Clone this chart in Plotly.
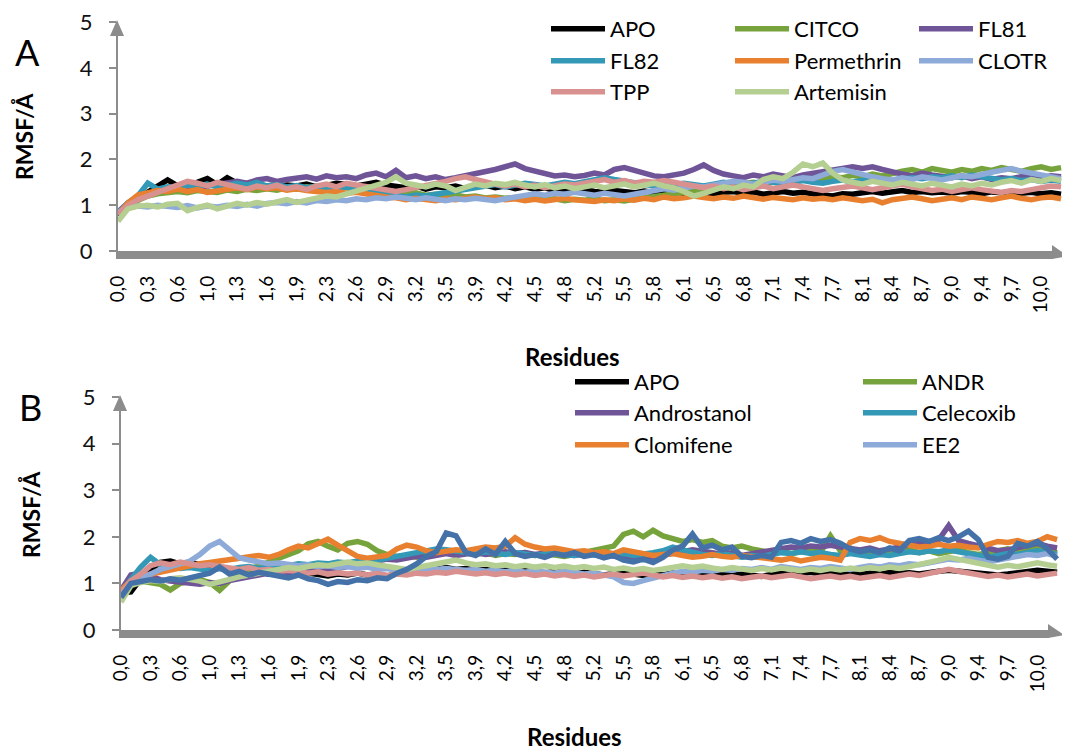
import plotly.graph_objects as go

W, H = 1070, 752
N = 96
idx = list(range(N))
tick_labels = ["0,0", "0,3", "0,6", "1,0", "1,3", "1,6", "1,9", "2,3", "2,6", "2,9",
               "3,2", "3,5", "3,9", "4,2", "4,5", "4,8", "5,2", "5,5", "5,8", "6,1",
               "6,5", "6,8", "7,1", "7,4", "7,7", "8,1", "8,4", "8,7", "9,0", "9,4",
               "9,7", "10,0"]
tick_pos = idx[::3][:len(tick_labels)]

# ---------------- Panel A ----------------
A_APO = [0.78, 1.02, 1.15, 1.28, 1.42, 1.55, 1.42, 1.40, 1.50, 1.58, 1.45, 1.60,
         1.48, 1.42, 1.45, 1.40, 1.38, 1.44, 1.42, 1.46, 1.40, 1.43, 1.48, 1.45,
         1.42, 1.46, 1.50, 1.44, 1.40, 1.38, 1.42, 1.35, 1.40, 1.38, 1.42, 1.36,
         1.40, 1.44, 1.38, 1.42, 1.36, 1.40, 1.35, 1.38, 1.32, 1.36, 1.30, 1.34,
         1.30, 1.28, 1.32, 1.30, 1.27, 1.31, 1.28, 1.32, 1.30, 1.26, 1.30, 1.28,
         1.25, 1.28, 1.30, 1.26, 1.29, 1.24, 1.27, 1.30, 1.26, 1.28, 1.25, 1.22,
         1.20, 1.25, 1.24, 1.27, 1.30, 1.26, 1.28, 1.32, 1.28, 1.30, 1.27, 1.29,
         1.26, 1.30, 1.28, 1.25, 1.29, 1.27, 1.30, 1.26, 1.28, 1.25, 1.27, 1.24]
A_CITCO = [0.80, 0.98, 1.10, 1.20, 1.25, 1.28, 1.30, 1.27, 1.32, 1.30, 1.28, 1.33,
           1.30, 1.35, 1.32, 1.36, 1.33, 1.38, 1.35, 1.40, 1.37, 1.42, 1.38, 1.40,
           1.36, 1.40, 1.34, 1.30, 1.28, 1.25, 1.27, 1.22, 1.24, 1.20, 1.22, 1.18,
           1.20, 1.16, 1.18, 1.15, 1.17, 1.14, 1.16, 1.12, 1.14, 1.10, 1.13, 1.11,
           1.14, 1.10, 1.12, 1.09, 1.13, 1.15, 1.18, 1.22, 1.25, 1.28, 1.30, 1.34,
           1.38, 1.42, 1.45, 1.48, 1.50, 1.46, 1.52, 1.55, 1.50, 1.56, 1.60, 1.58,
           1.62, 1.60, 1.65, 1.62, 1.68, 1.64, 1.70, 1.74, 1.78, 1.72, 1.80, 1.76,
           1.72, 1.78, 1.74, 1.80, 1.76, 1.82, 1.78, 1.74, 1.80, 1.84, 1.78, 1.82]
A_FL81 = [0.85, 1.05, 1.18, 1.25, 1.30, 1.34, 1.36, 1.40, 1.38, 1.42, 1.45, 1.48,
          1.52, 1.48, 1.55, 1.58, 1.52, 1.56, 1.60, 1.62, 1.57, 1.64, 1.60, 1.62,
          1.58, 1.66, 1.70, 1.62, 1.76, 1.60, 1.64, 1.58, 1.62, 1.56, 1.60, 1.64,
          1.68, 1.72, 1.78, 1.84, 1.90, 1.80, 1.74, 1.68, 1.64, 1.66, 1.62, 1.65,
          1.70, 1.66, 1.78, 1.82, 1.76, 1.70, 1.64, 1.62, 1.66, 1.70, 1.78, 1.88,
          1.76, 1.68, 1.64, 1.60, 1.66, 1.62, 1.68, 1.64, 1.60, 1.66, 1.70, 1.74,
          1.78, 1.82, 1.84, 1.80, 1.84, 1.78, 1.72, 1.68, 1.64, 1.70, 1.66, 1.62,
          1.60, 1.64, 1.58, 1.62, 1.56, 1.60, 1.58, 1.62, 1.66, 1.60, 1.64, 1.62]
A_FL82 = [0.82, 1.05, 1.20, 1.48, 1.35, 1.40, 1.38, 1.44, 1.42, 1.46, 1.40, 1.45,
          1.48, 1.44, 1.50, 1.42, 1.45, 1.40, 1.43, 1.38, 1.42, 1.36, 1.40, 1.38,
          1.35, 1.32, 1.28, 1.25, 1.20, 1.18, 1.22, 1.20, 1.24, 1.28, 1.32, 1.36,
          1.38, 1.42, 1.45, 1.40, 1.44, 1.48, 1.45, 1.42, 1.46, 1.50, 1.47, 1.52,
          1.55, 1.60, 1.56, 1.52, 1.48, 1.45, 1.42, 1.46, 1.44, 1.48, 1.45, 1.42,
          1.46, 1.50, 1.47, 1.44, 1.48, 1.52, 1.50, 1.46, 1.50, 1.54, 1.50, 1.48,
          1.52, 1.55, 1.50, 1.54, 1.58, 1.55, 1.52, 1.56, 1.60, 1.58, 1.62, 1.60,
          1.64, 1.60, 1.66, 1.62, 1.58, 1.55, 1.58, 1.54, 1.56, 1.52, 1.55, 1.52]
A_Permethrin = [0.80, 1.05, 1.22, 1.28, 1.32, 1.30, 1.35, 1.30, 1.34, 1.28, 1.32, 1.36,
                1.38, 1.34, 1.40, 1.36, 1.38, 1.33, 1.36, 1.32, 1.30, 1.28, 1.30, 1.26,
                1.28, 1.24, 1.22, 1.18, 1.16, 1.12, 1.15, 1.12, 1.10, 1.14, 1.12, 1.15,
                1.18, 1.14, 1.16, 1.12, 1.14, 1.10, 1.13, 1.09, 1.12, 1.15, 1.12, 1.10,
                1.08, 1.12, 1.10, 1.14, 1.11, 1.15, 1.12, 1.18, 1.14, 1.16, 1.20, 1.17,
                1.14, 1.18, 1.15, 1.20, 1.16, 1.13, 1.17, 1.14, 1.12, 1.16, 1.13, 1.15,
                1.12, 1.16, 1.14, 1.10, 1.13, 1.05, 1.12, 1.15, 1.18, 1.14, 1.10, 1.13,
                1.16, 1.12, 1.18, 1.15, 1.12, 1.16, 1.20, 1.15, 1.12, 1.16, 1.18, 1.14]
A_CLOTR = [0.85, 0.95, 0.98, 0.96, 1.00, 0.97, 0.95, 0.99, 0.94, 0.98, 0.96, 1.00,
           0.97, 1.02, 0.98, 1.04, 1.06, 1.03, 1.08, 1.05, 1.10, 1.08, 1.12, 1.10,
           1.14, 1.12, 1.16, 1.14, 1.18, 1.15, 1.12, 1.16, 1.13, 1.10, 1.14, 1.12,
           1.15, 1.12, 1.10, 1.14, 1.18, 1.22, 1.25, 1.22, 1.26, 1.24, 1.28, 1.25,
           1.22, 1.26, 1.24, 1.20, 1.24, 1.28, 1.32, 1.36, 1.33, 1.38, 1.42, 1.40,
           1.44, 1.48, 1.52, 1.50, 1.46, 1.50, 1.55, 1.52, 1.56, 1.60, 1.58, 1.66,
           1.74, 1.78, 1.72, 1.66, 1.62, 1.58, 1.55, 1.60, 1.56, 1.62, 1.58, 1.55,
           1.60, 1.64, 1.62, 1.68, 1.72, 1.76, 1.80, 1.74, 1.70, 1.66, 1.62, 1.58]
A_TPP = [0.80, 1.00, 1.12, 1.20, 1.30, 1.38, 1.45, 1.52, 1.48, 1.42, 1.50, 1.44,
         1.40, 1.35, 1.42, 1.38, 1.44, 1.36, 1.40, 1.34, 1.42, 1.46, 1.40, 1.48,
         1.44, 1.40, 1.36, 1.32, 1.30, 1.34, 1.38, 1.42, 1.46, 1.52, 1.58, 1.62,
         1.56, 1.50, 1.46, 1.42, 1.46, 1.40, 1.44, 1.38, 1.42, 1.46, 1.44, 1.48,
         1.52, 1.56, 1.50, 1.54, 1.48, 1.52, 1.50, 1.54, 1.50, 1.46, 1.42, 1.38,
         1.42, 1.36, 1.40, 1.34, 1.38, 1.42, 1.36, 1.40, 1.44, 1.40, 1.36, 1.32,
         1.36, 1.40, 1.42, 1.38, 1.34, 1.38, 1.42, 1.46, 1.40, 1.36, 1.32, 1.35,
         1.30, 1.34, 1.38, 1.34, 1.30, 1.28, 1.32, 1.30, 1.34, 1.38, 1.42, 1.40]
A_Artemisin = [0.65, 0.92, 0.98, 1.00, 0.96, 1.02, 1.04, 0.88, 0.95, 1.00, 0.92, 0.98,
               1.04, 1.00, 1.06, 1.02, 1.08, 1.12, 1.06, 1.10, 1.15, 1.20, 1.18, 1.24,
               1.30, 1.36, 1.42, 1.50, 1.62, 1.48, 1.44, 1.40, 1.46, 1.42, 1.32, 1.40,
               1.46, 1.42, 1.48, 1.45, 1.50, 1.44, 1.40, 1.45, 1.38, 1.42, 1.36, 1.40,
               1.44, 1.38, 1.42, 1.46, 1.40, 1.44, 1.48, 1.42, 1.38, 1.30, 1.20, 1.26,
               1.34, 1.40, 1.36, 1.44, 1.40, 1.56, 1.62, 1.58, 1.72, 1.90, 1.84, 1.92,
               1.70, 1.55, 1.50, 1.46, 1.52, 1.48, 1.44, 1.50, 1.46, 1.42, 1.48, 1.44,
               1.40, 1.46, 1.42, 1.48, 1.44, 1.50, 1.54, 1.48, 1.56, 1.52, 1.58, 1.54]

# ---------------- Panel B ----------------
B_APO = [0.80, 0.82, 1.10, 1.30, 1.45, 1.48, 1.42, 1.45, 1.40, 1.36, 1.30, 1.28,
         1.25, 1.22, 1.26, 1.20, 1.24, 1.22, 1.18, 1.22, 1.20, 1.16, 1.20, 1.18,
         1.22, 1.18, 1.20, 1.16, 1.20, 1.24, 1.22, 1.26, 1.30, 1.34, 1.30, 1.32,
         1.28, 1.30, 1.26, 1.28, 1.24, 1.27, 1.25, 1.22, 1.26, 1.23, 1.20, 1.24,
         1.22, 1.18, 1.21, 1.24, 1.20, 1.17, 1.20, 1.18, 1.22, 1.19, 1.16, 1.20,
         1.18, 1.21, 1.17, 1.20, 1.18, 1.15, 1.19, 1.22, 1.18, 1.21, 1.24, 1.20,
         1.22, 1.18, 1.21, 1.19, 1.22, 1.20, 1.24, 1.21, 1.23, 1.20, 1.24, 1.26,
         1.28, 1.26, 1.24, 1.22, 1.20, 1.18, 1.20, 1.22, 1.25, 1.28, 1.26, 1.24]
B_ANDR = [0.80, 1.00, 1.05, 1.02, 0.98, 0.86, 1.00, 1.04, 1.08, 1.02, 0.85, 1.05,
          1.20, 1.30, 1.38, 1.45, 1.55, 1.62, 1.70, 1.85, 1.90, 1.80, 1.72, 1.86,
          1.90, 1.84, 1.70, 1.62, 1.58, 1.60, 1.56, 1.62, 1.66, 1.70, 1.68, 1.64,
          1.62, 1.66, 1.60, 1.64, 1.62, 1.66, 1.60, 1.64, 1.62, 1.58, 1.62, 1.66,
          1.70, 1.74, 1.80, 2.05, 2.12, 2.00, 2.14, 2.02, 1.95, 1.90, 1.94, 1.88,
          1.92, 1.80, 1.76, 1.80, 1.74, 1.70, 1.66, 1.70, 1.64, 1.68, 1.72, 1.66,
          2.02, 1.70, 1.66, 1.62, 1.66, 1.70, 1.64, 1.68, 1.72, 1.66, 1.70, 1.64,
          1.68, 1.72, 1.66, 1.62, 1.66, 1.70, 1.74, 1.68, 1.72, 1.76, 1.70, 1.66]
B_Androstanol = [0.85, 1.18, 1.22, 1.15, 1.08, 1.05, 1.02, 1.00, 0.98, 1.02, 1.00, 1.06,
                 1.10, 1.14, 1.18, 1.22, 1.20, 1.18, 1.22, 1.26, 1.30, 1.28, 1.32, 1.36,
                 1.40, 1.44, 1.48, 1.52, 1.50, 1.54, 1.58, 1.56, 1.60, 1.64, 1.60, 1.62,
                 1.66, 1.62, 1.65, 1.68, 1.64, 1.66, 1.62, 1.65, 1.68, 1.64, 1.60, 1.63,
                 1.66, 1.62, 1.58, 1.55, 1.58, 1.54, 1.57, 1.60, 1.64, 1.68, 1.72, 1.70,
                 1.66, 1.62, 1.65, 1.60, 1.64, 1.66, 1.70, 1.74, 1.78, 1.76, 1.80, 1.78,
                 1.82, 1.78, 1.74, 1.72, 1.76, 1.70, 1.74, 1.78, 1.82, 1.86, 1.90, 1.94,
                 2.24, 1.92, 1.86, 1.80, 1.74, 1.70, 1.72, 1.76, 1.82, 1.86, 1.80, 1.76]
B_Celecoxib = [0.82, 1.10, 1.35, 1.56, 1.40, 1.36, 1.32, 1.34, 1.30, 1.28, 1.32, 1.30,
               1.34, 1.36, 1.32, 1.36, 1.40, 1.38, 1.42, 1.40, 1.44, 1.42, 1.46, 1.44,
               1.48, 1.46, 1.50, 1.54, 1.58, 1.62, 1.66, 1.70, 1.74, 1.72, 1.68, 1.66,
               1.64, 1.68, 1.65, 1.62, 1.66, 1.64, 1.60, 1.63, 1.66, 1.62, 1.60, 1.64,
               1.62, 1.58, 1.61, 1.64, 1.60, 1.62, 1.66, 1.70, 1.78, 1.72, 1.66, 1.62,
               1.60, 1.64, 1.60, 1.56, 1.60, 1.58, 1.62, 1.66, 1.64, 1.68, 1.64, 1.66,
               1.62, 1.60, 1.64, 1.62, 1.58, 1.62, 1.60, 1.64, 1.68, 1.66, 1.70, 1.68,
               1.72, 1.68, 1.64, 1.60, 1.56, 1.60, 1.64, 1.62, 1.66, 1.70, 1.66, 1.62]
B_Clomifene = [0.85, 1.05, 1.15, 1.20, 1.25, 1.30, 1.34, 1.38, 1.42, 1.45, 1.48, 1.52,
               1.55, 1.58, 1.60, 1.56, 1.62, 1.72, 1.80, 1.76, 1.84, 1.95, 1.82, 1.70,
               1.58, 1.54, 1.56, 1.60, 1.74, 1.82, 1.78, 1.70, 1.66, 1.68, 1.72, 1.70,
               1.74, 1.78, 1.76, 1.80, 1.98, 1.84, 1.78, 1.74, 1.76, 1.72, 1.68, 1.70,
               1.66, 1.68, 1.64, 1.72, 1.68, 1.64, 1.60, 1.62, 1.64, 1.60, 1.56, 1.58,
               1.62, 1.58, 1.56, 1.60, 1.58, 1.55, 1.52, 1.50, 1.54, 1.48, 1.52, 1.56,
               1.54, 1.50, 1.88, 1.96, 1.92, 1.98, 1.90, 1.86, 1.82, 1.78, 1.80, 1.84,
               1.80, 1.82, 1.78, 1.76, 1.84, 1.90, 1.88, 1.92, 1.86, 1.90, 2.00, 1.94]
B_EE2 = [0.80, 1.00, 1.10, 1.20, 1.30, 1.36, 1.42, 1.48, 1.62, 1.80, 1.90, 1.72,
         1.55, 1.50, 1.46, 1.42, 1.44, 1.40, 1.38, 1.40, 1.36, 1.38, 1.34, 1.36,
         1.32, 1.35, 1.30, 1.32, 1.28, 1.30, 1.26, 1.28, 1.30, 1.32, 1.30, 1.28,
         1.30, 1.26, 1.28, 1.25, 1.28, 1.24, 1.27, 1.25, 1.22, 1.26, 1.24, 1.20,
         1.22, 1.18, 1.14, 1.02, 1.00, 1.06, 1.12, 1.18, 1.22, 1.26, 1.24, 1.28,
         1.26, 1.30, 1.28, 1.32, 1.30, 1.34, 1.30, 1.36, 1.33, 1.30, 1.34, 1.32,
         1.36, 1.33, 1.30, 1.34, 1.38, 1.35, 1.40, 1.38, 1.42, 1.40, 1.44, 1.48,
         1.52, 1.50, 1.54, 1.50, 1.46, 1.50, 1.54, 1.58, 1.62, 1.60, 1.64, 1.58]
# series drawn in panel B whose legend entries are cut off in the original
B_extra_pink = [0.80, 1.05, 1.20, 1.38, 1.44, 1.40, 1.46, 1.42, 1.38, 1.40, 1.36, 1.32,
                1.30, 1.34, 1.28, 1.30, 1.26, 1.28, 1.24, 1.22, 1.25, 1.20, 1.23, 1.20,
                1.22, 1.18, 1.21, 1.17, 1.20, 1.18, 1.22, 1.20, 1.24, 1.22, 1.26, 1.24,
                1.20, 1.23, 1.19, 1.22, 1.18, 1.21, 1.17, 1.20, 1.16, 1.19, 1.15, 1.18,
                1.14, 1.17, 1.20, 1.16, 1.19, 1.22, 1.18, 1.14, 1.17, 1.13, 1.16, 1.12,
                1.15, 1.11, 1.14, 1.10, 1.13, 1.16, 1.12, 1.15, 1.18, 1.14, 1.10, 1.13,
                1.16, 1.12, 1.15, 1.11, 1.14, 1.17, 1.13, 1.16, 1.20, 1.17, 1.22, 1.26,
                1.30, 1.26, 1.22, 1.18, 1.15, 1.18, 1.14, 1.17, 1.20, 1.16, 1.19, 1.22]
B_extra_lightgreen = [0.60, 0.95, 1.02, 1.06, 1.04, 1.10, 1.12, 1.08, 1.05, 0.98, 1.04, 1.10,
                      1.14, 1.18, 1.22, 1.26, 1.30, 1.34, 1.32, 1.36, 1.40, 1.38, 1.42, 1.46,
                      1.42, 1.44, 1.40, 1.36, 1.32, 1.30, 1.34, 1.38, 1.42, 1.46, 1.50, 1.44,
                      1.40, 1.42, 1.38, 1.40, 1.36, 1.39, 1.35, 1.38, 1.34, 1.37, 1.33, 1.36,
                      1.32, 1.35, 1.30, 1.33, 1.29, 1.32, 1.28, 1.31, 1.35, 1.38, 1.34, 1.37,
                      1.33, 1.30, 1.34, 1.31, 1.28, 1.32, 1.29, 1.33, 1.30, 1.27, 1.31, 1.28,
                      1.32, 1.29, 1.33, 1.30, 1.34, 1.31, 1.35, 1.32, 1.36, 1.40, 1.44, 1.50,
                      1.56, 1.52, 1.48, 1.42, 1.38, 1.35, 1.39, 1.36, 1.40, 1.44, 1.40, 1.37]
B_extra_darkblue = [0.70, 1.00, 1.04, 1.08, 1.05, 1.10, 1.07, 1.12, 1.16, 1.22, 1.35, 1.20,
                    1.26, 1.18, 1.24, 1.20, 1.16, 1.12, 1.18, 1.10, 1.06, 0.98, 1.04, 1.02,
                    1.08, 1.06, 1.12, 1.10, 1.22, 1.30, 1.42, 1.58, 1.68, 2.08, 2.02, 1.66,
                    1.60, 1.74, 1.62, 1.90, 1.64, 1.58, 1.62, 1.56, 1.64, 1.60, 1.66, 1.58,
                    1.62, 1.55, 1.60, 1.50, 1.46, 1.52, 1.45, 1.56, 1.72, 1.80, 2.06, 1.76,
                    1.82, 1.72, 1.78, 1.58, 1.55, 1.60, 1.56, 1.88, 1.92, 1.86, 1.96, 1.90,
                    1.94, 1.86, 1.74, 1.68, 1.72, 1.66, 1.76, 1.70, 1.92, 1.96, 1.90, 1.98,
                    1.92, 2.00, 2.12, 1.94, 1.56, 1.52, 1.58, 1.86, 1.80, 1.90, 1.74, 1.52]

C_BLACK = "#000000"
C_GREEN = "#77A33C"
C_PURPLE = "#6F5498"
C_TEAL = "#3399B6"
C_ORANGE = "#E8802F"
C_LBLUE = "#8EAAD8"
C_PINK = "#D9918F"
C_LGREEN = "#B5CF92"
C_DBLUE = "#4472A8"
AXIS_GRAY = "#8C8C8C"
FONT = "Lato"

# (name, values, colour, legend row, legend entry width)
panel_a = [("APO", A_APO, C_BLACK, "legend", 115),
           ("CITCO", A_CITCO, C_GREEN, "legend", 115),
           ("FL81", A_FL81, C_PURPLE, "legend", 70),
           ("FL82", A_FL82, C_TEAL, "legend2", 115),
           ("Permethrin", A_Permethrin, C_ORANGE, "legend2", 115),
           ("CLOTR", A_CLOTR, C_LBLUE, "legend2", 70),
           ("TPP", A_TPP, C_PINK, "legend3", 115),
           ("Artemisin", A_Artemisin, C_LGREEN, "legend3", 100)]
panel_b = [("APO", B_APO, C_BLACK, "legend4", 219),
           ("ANDR", B_ANDR, C_GREEN, "legend4", 100),
           ("Androstanol", B_Androstanol, C_PURPLE, "legend5", 219),
           ("Celecoxib", B_Celecoxib, C_TEAL, "legend5", 100),
           ("Clomifene", B_Clomifene, C_ORANGE, "legend6", 219),
           ("EE2", B_EE2, C_LBLUE, "legend6", 100),
           ("series 7", B_extra_pink, C_PINK, None, 100),
           ("series 8", B_extra_lightgreen, C_LGREEN, None, 100),
           ("series 9", B_extra_darkblue, C_DBLUE, None, 100)]

fig = go.Figure()
LW = 5.5
for name, vals, col, leg, ew in panel_a:
    fig.add_trace(go.Scatter(x=idx, y=vals, name=name, mode="lines",
                             line=dict(color=col, width=LW), legendwidth=ew,
                             xaxis="x", yaxis="y", legend=leg))
for name, vals, col, leg, ew in panel_b:
    fig.add_trace(go.Scatter(x=idx, y=vals, name=name, mode="lines",
                             line=dict(color=col, width=LW), legendwidth=ew,
                             xaxis="x2", yaxis="y2",
                             legend=leg if leg else "legend4",
                             showlegend=leg is not None))

# the page adds an 8px body margin, so positions are shifted back by it
OFF = 8


def fx(px):
    return (px - OFF) / W


def fy(py):
    return 1 - (py - OFF) / H


# pixel geometry of the two plot areas (page pixels)
A_L, A_R, A_Y0, A_Y5 = 118, 1067, 251, 22
B_L, B_R, B_Y0, B_Y5 = 121, 1063, 630, 397
XMAX = 95.6


def xaxis_cfg(l, r, anchor):
    return dict(domain=[fx(l), fx(r)], range=[0, XMAX], showgrid=False, zeroline=False,
                showline=False, ticks="", automargin=False, anchor=anchor,
                tickmode="array", tickvals=tick_pos, ticktext=tick_labels,
                ticklabelstandoff=20, ticklabeloverflow="allow",
                tickangle=-90, tickfont=dict(family=FONT, size=19, color="#000"))


def yaxis_cfg(y0, y5, anchor):
    return dict(domain=[fy(y0), fy(y5)], range=[0, 5], showgrid=False, zeroline=False,
                showline=True, linecolor=AXIS_GRAY, linewidth=2, ticks="outside",
                ticklen=7, tickwidth=1.5, tickcolor=AXIS_GRAY, tickvals=[0, 1, 2, 3, 4, 5],
                tickfont=dict(family=FONT, size=22, color="#111"), ticklabelstandoff=12,
                ticklabeloverflow="allow", anchor=anchor, automargin=False)


def path(points):
    return "M " + " L ".join(f"{fx(a):.5f},{fy(b):.5f}" for a, b in points) + " Z"


shapes = []
for l, r, y0, y5 in [(A_L, A_R, A_Y0, A_Y5), (B_L, B_R, B_Y0, B_Y5)]:
    # thick x-axis bar
    shapes.append(dict(type="path", xref="paper", yref="paper", layer="above",
                       path=path([(l - 2, y0), (r - 14, y0), (r - 14, y0 + 8), (l - 2, y0 + 8)]),
                       fillcolor=AXIS_GRAY, line=dict(width=0)))
    # x-axis arrow head
    shapes.append(dict(type="path", xref="paper", yref="paper", layer="above",
                       path=path([(r - 15, y0 - 6), (r + 1, y0 + 5), (r - 15, y0 + 8)]),
                       fillcolor=AXIS_GRAY, line=dict(width=0)))
    # y-axis arrow head
    shapes.append(dict(type="path", xref="paper", yref="paper", layer="above",
                       path=path([(l - 1, y5 - 2), (l - 8, y5 + 14), (l + 6, y5 + 14)]),
                       fillcolor=AXIS_GRAY, line=dict(width=0)))

ann = []
for txt, x, y, size, bold, angle in [("A", 27, 52, 36, False, 0),
                                     ("B", 30, 407, 36, False, 0),
                                     ("RMSF/Å", 24, 137, 23, True, -90),
                                     ("RMSF/Å", 31, 515, 23, True, -90),
                                     ("Residues", 572, 356, 24, True, 0),
                                     ("Residues", 574, 736, 24, True, 0)]:
    ann.append(dict(text=f"<b>{txt}</b>" if bold else txt, x=fx(x), y=fy(y),
                    xref="paper", yref="paper", showarrow=False, textangle=angle,
                    xanchor="center", yanchor="middle",
                    font=dict(family=FONT, size=size, color="#000")))


def legend_cfg(xpx, ypx):
    return dict(orientation="h", x=fx(xpx), y=fy(ypx), xanchor="left", yanchor="middle",
                bgcolor="rgba(0,0,0,0)", borderwidth=0, itemwidth=54,
                entrywidthmode="pixels", traceorder="normal",
                font=dict(family=FONT, size=22, color="#000"), itemclick=False)


fig.update_layout(
    width=W, height=H, margin=dict(l=0, r=0, t=0, b=0, autoexpand=False),
    paper_bgcolor="white", plot_bgcolor="white",
    xaxis=xaxis_cfg(A_L, A_R, "y"), yaxis=yaxis_cfg(A_Y0, A_Y5, "x"),
    xaxis2=xaxis_cfg(B_L, B_R, "y2"), yaxis2=yaxis_cfg(B_Y0, B_Y5, "x2"),
    legend=legend_cfg(546, 29),
    legend2=legend_cfg(546, 61),
    legend3=legend_cfg(546, 92),
    legend4=legend_cfg(570, 382),
    legend5=legend_cfg(570, 413),
    legend6=legend_cfg(570, 445),
    shapes=shapes, annotations=ann, showlegend=True,
)

fig.write_html("out.html")
